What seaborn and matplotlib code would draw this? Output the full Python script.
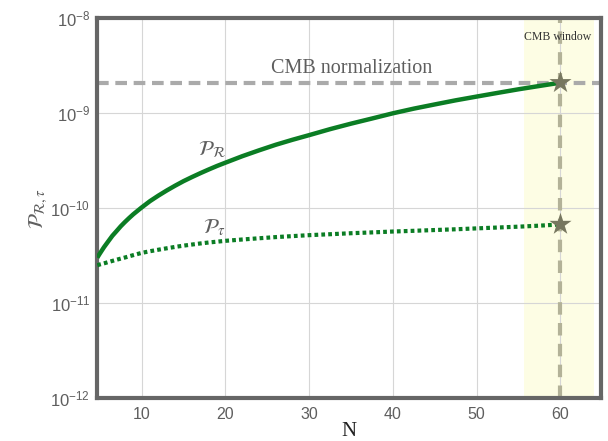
import numpy as np
import pandas as pd
import matplotlib
matplotlib.use("Agg")
import matplotlib.pyplot as plt
from matplotlib.ticker import FixedLocator, MultipleLocator, FuncFormatter, LogLocator, NullFormatter
import seaborn as sns

# e-folding number N and the two power spectra
n_efolds = [4.7, 5, 5.5, 6, 6.5, 7, 7.5, 8, 8.5, 9, 10, 11, 12, 13, 14, 15, 16, 17, 18, 19,
            20, 22, 24, 26, 28, 30, 32.5, 35, 37.5, 40, 42.5, 45, 47.5, 50, 52.5, 55, 57.5, 60]
p_curv = [3.02e-11, 3.33e-11, 3.89e-11, 4.47e-11, 5.13e-11, 5.75e-11, 6.46e-11, 7.16e-11,
          7.89e-11, 8.65e-11, 1.02e-10, 1.19e-10, 1.36e-10, 1.54e-10, 1.73e-10, 1.93e-10,
          2.13e-10, 2.34e-10, 2.56e-10, 2.79e-10, 3.02e-10, 3.53e-10, 4.07e-10, 4.66e-10,
          5.26e-10, 5.89e-10, 6.81e-10, 7.78e-10, 8.81e-10, 1.00e-9, 1.12e-9, 1.24e-9,
          1.37e-9, 1.50e-9, 1.64e-9, 1.79e-9, 1.94e-9, 2.10e-9]
p_tau = [2.51e-11, 2.56e-11, 2.63e-11, 2.71e-11, 2.79e-11, 2.87e-11, 2.95e-11, 3.03e-11,
         3.12e-11, 3.21e-11, 3.39e-11, 3.53e-11, 3.66e-11, 3.79e-11, 3.92e-11, 4.04e-11,
         4.15e-11, 4.26e-11, 4.36e-11, 4.45e-11, 4.54e-11, 4.69e-11, 4.83e-11, 4.97e-11,
         5.09e-11, 5.21e-11, 5.33e-11, 5.46e-11, 5.57e-11, 5.69e-11, 5.79e-11, 5.90e-11,
         6.01e-11, 6.14e-11, 6.27e-11, 6.40e-11, 6.56e-11, 6.76e-11]

cmb_norm = 2.1e-9
n_star = 60
window = [55.6, 64.0]
x_ticks = [10, 20, 30, 40, 50, 60]
y_decades = [-12, -11, -10, -9, -8]

sns.set_theme(style="white")
plt.rcParams["font.family"] = ["Liberation Sans", "DejaVu Sans"]
plt.rcParams["mathtext.fontset"] = "custom"
plt.rcParams["mathtext.rm"] = "Liberation Sans"
plt.rcParams["mathtext.it"] = "Liberation Sans:italic"

green = "#0b7d24"
frame = "#666666"
txt = "#5e5e5e"

fig = plt.figure(figsize=(6.08, 4.41), dpi=100)
ax = fig.add_axes([0.16, 0.097, 0.828, 0.8615])

df_r = pd.DataFrame({"N": n_efolds, "P": p_curv})
df_t = pd.DataFrame({"N": n_efolds, "P": p_tau})

ax.axvspan(window[0], window[1], color="#fdfde4", zorder=0, lw=0)
ax.grid(True, color="#d6d6d6", lw=0.8, zorder=0.5)
ax.set_axisbelow(True)

ax.axhline(cmb_norm, color="#aaaaaa", lw=3.0, dashes=(2.8, 1.6), zorder=2)
ax.axvline(n_star, color="#b3b298", lw=3.0, dashes=(3.0, 2.0), zorder=2)

sns.lineplot(data=df_r, x="N", y="P", ax=ax, color=green, lw=3.2, zorder=3,
             solid_capstyle="butt")
sns.lineplot(data=df_t, x="N", y="P", ax=ax, color=green, lw=3.0, zorder=3,
             linestyle=(0, (0.9, 0.75)))

stars = pd.DataFrame({"N": [n_star, n_star], "P": [p_curv[-1], p_tau[-1]]})
sns.scatterplot(data=stars, x="N", y="P", ax=ax, marker="*", s=280,
                color="#77775f", edgecolor="none", zorder=4)

ax.set_yscale("log")
ax.set_xlim(4.7, 64.8)
ax.set_ylim(1e-12, 1e-8)

ax.xaxis.set_major_locator(FixedLocator(x_ticks))
ax.xaxis.set_minor_locator(MultipleLocator(2))
ax.yaxis.set_major_locator(FixedLocator([10.0 ** d for d in y_decades]))
ax.yaxis.set_minor_locator(LogLocator(base=10, subs=np.arange(2, 10)))
ax.yaxis.set_minor_formatter(NullFormatter())
ax.yaxis.set_major_formatter(FuncFormatter(
    lambda v, p: r"$\mathregular{10^{%d}}$" % int(round(np.log10(v)))))

ax.tick_params(axis="both", which="major", direction="in", length=4, width=1.5,
               color=frame, labelsize=11.5, labelcolor=txt, pad=6)
ax.tick_params(axis="both", which="minor", direction="in", length=2, width=1.0,
               color="#8a8a8a")
ax.tick_params(axis="y", which="major", labelsize=12, pad=5)

for s in ax.spines.values():
    s.set_visible(True)
    s.set_color(frame)
    s.set_linewidth(3.0)

ax.set_xlabel("N", family="Liberation Serif", fontsize=15, color="#222222", labelpad=0)
ax.set_ylabel(r"$\mathcal{P}_{\mathcal{R},\tau}$", fontsize=15, color=txt,
              math_fontfamily="stix", labelpad=0)

ax.text(35.1, 2.95e-9, "CMB normalization", family="Liberation Serif", fontsize=14.5,
        color=txt, ha="center", va="center", zorder=5)
ax.text(59.7, 6.3e-9, "CMB window", family="Liberation Serif", fontsize=8.5,
        color="#333333", ha="center", va="center", zorder=5)
ax.text(18.4, 4.1e-10, r"$\mathcal{P}_{\mathcal{R}}$", fontsize=15, color=txt,
        math_fontfamily="stix", ha="center", va="center", zorder=5)
ax.text(18.7, 6.3e-11, r"$\mathcal{P}_{\tau}$", fontsize=15, color=txt,
        math_fontfamily="stix", ha="center", va="center", zorder=5)

fig.savefig("out.png", dpi=100)
